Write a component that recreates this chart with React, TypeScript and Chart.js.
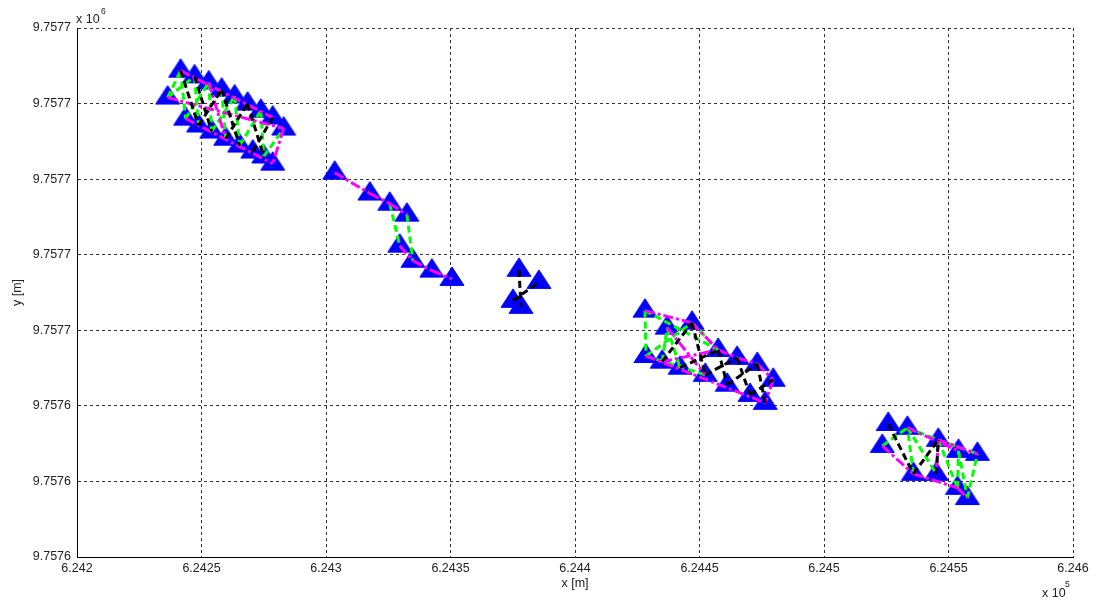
import React, { useEffect, useRef } from "react";
import { Chart, registerables } from "chart.js";

Chart.register(...registerables);

const FONT = '"Liberation Sans", Arial, Helvetica, sans-serif';

// Axis ticks
const xTickValues = [624200, 624250, 624300, 624350, 624400, 624450, 624500, 624550, 624600];
const xTickLabels = ["6.242", "6.2425", "6.243", "6.2435", "6.244", "6.2445", "6.245", "6.2455", "6.246"];
const yTickValues = [9757600, 9757620, 9757640, 9757660, 9757680, 9757700, 9757720, 9757740];
const yTickLabels = ["9.7576", "9.7576", "9.7576", "9.7577", "9.7577", "9.7577", "9.7577", "9.7577"];

// Cluster 1 (upper chord 0-8, lower chord 9-17)
const c1X = [624241.6, 624247.2, 624252.9, 624258.1, 624263.3, 624268.5, 624273.8, 624278.6, 624283.0,
  624236.4, 624243.6, 624248.8, 624254.1, 624259.7, 624265.3, 624270.6, 624275.0, 624278.6];
const c1Y = [9757728.7, 9757727.2, 9757725.6, 9757723.7, 9757721.9, 9757720.0, 9757718.1, 9757716.3, 9757713.4,
  9757721.6, 9757716.0, 9757714.2, 9757712.6, 9757710.7, 9757708.9, 9757707.3, 9757706.0, 9757704.1];
const c1Green = [[9, 0], [0, 10], [10, 2], [2, 12], [12, 4], [4, 14], [14, 6], [6, 16], [16, 8], [9, 1], [1, 11], [3, 13]];
const c1Black = [[1, 12], [11, 3], [3, 14], [13, 5], [5, 16], [15, 7], [0, 11]];
const c1Magenta = [[9, 8], [0, 7], [10, 17], [8, 17], [2, 13]];

// Cluster 2
const c2X = [624303.5, 624317.6, 624325.6, 624332.5, 624329.6, 624334.9, 624342.5, 624350.6];
const c2Y = [9757701.7, 9757696.2, 9757693.5, 9757690.6, 9757682.4, 9757678.4, 9757675.8, 9757673.6];
const c2Green = [[2, 4], [3, 5]];
const c2Black: number[][] = [];
const c2Magenta = [[0, 1], [1, 2], [2, 3], [4, 5], [5, 6], [6, 7]];

// Cluster 3
const c3X = [624377.5, 624385.5, 624375.1, 624378.3];
const c3Y = [9757676.0, 9757672.8, 9757667.8, 9757666.2];
const c3Green: number[][] = [];
const c3Black = [[0, 3], [2, 1]];
const c3Magenta: number[][] = [];

// Cluster 4 (upper 0-6, lower 7-13)
const c4X = [624428.1, 624437.0, 624447.0, 624457.5, 624465.1, 624473.2, 624479.6,
  624428.5, 624435.0, 624442.2, 624452.3, 624461.1, 624470.3, 624476.4];
const c4Y = [9757665.2, 9757660.7, 9757662.0, 9757654.8, 9757652.7, 9757651.1, 9757646.9,
  9757653.2, 9757651.7, 9757650.1, 9757648.2, 9757645.6, 9757642.9, 9757640.8];
const c4Green = [[0, 7], [0, 3], [7, 2], [2, 3], [7, 10], [1, 9], [8, 1]];
const c4Black = [[8, 2], [2, 10], [9, 3], [3, 11], [10, 4], [4, 12], [11, 5], [5, 13], [12, 6]];
const c4Magenta = [[0, 2], [2, 3], [3, 4], [4, 5], [5, 6], [7, 13], [8, 3], [6, 13], [1, 10]];

// Cluster 5 (upper 0-4, lower 5-9)
const c5X = [624525.8, 624533.5, 624545.9, 624554.0, 624561.6, 624523.4, 624535.9, 624545.1, 624553.6, 624557.6];
const c5Y = [9757635.2, 9757634.2, 9757631.0, 9757628.1, 9757627.3, 9757629.4, 9757622.0, 9757622.0, 9757618.3, 9757615.6];
const c5Green = [[5, 1], [1, 2], [2, 4], [2, 8], [8, 3], [3, 9], [9, 4], [6, 1], [1, 7]];
const c5Black = [[0, 6], [6, 2], [7, 2]];
const c5Magenta = [[5, 6], [6, 8], [8, 9], [2, 4], [2, 7], [1, 3]];

const clusters = [
  { xs: c1X, ys: c1Y, green: c1Green, black: c1Black, magenta: c1Magenta },
  { xs: c2X, ys: c2Y, green: c2Green, black: c2Black, magenta: c2Magenta },
  { xs: c3X, ys: c3Y, green: c3Green, black: c3Black, magenta: c3Magenta },
  { xs: c4X, ys: c4Y, green: c4Green, black: c4Black, magenta: c4Magenta },
  { xs: c5X, ys: c5Y, green: c5Green, black: c5Black, magenta: c5Magenta },
];

type EdgeKey = "green" | "black" | "magenta";

function segments(key: EdgeKey) {
  const pts: { x: number; y: number | null }[] = [];
  clusters.forEach((c) => {
    c[key].forEach(([a, b]) => {
      pts.push({ x: c.xs[a], y: c.ys[a] });
      pts.push({ x: c.xs[b], y: c.ys[b] });
      pts.push({ x: c.xs[b], y: null });
    });
  });
  return pts;
}

const exponentPlugin = {
  id: "exponents",
  afterDraw(chart: any) {
    const { ctx, chartArea } = chart;
    ctx.save();
    ctx.fillStyle = "#222";
    ctx.textAlign = "left";
    ctx.textBaseline = "alphabetic";
    ctx.font = `12.5px ${FONT}`;
    ctx.fillText("x 10", chartArea.left - 1, 22.5);
    ctx.fillText("x 10", chartArea.right - 31, 596.5);
    ctx.font = `8.5px ${FONT}`;
    ctx.fillText("6", chartArea.left + 24, 13.5);
    ctx.fillText("5", chartArea.right - 8, 587);
    ctx.restore();
  },
};

export default function App() {
  const ref = useRef<HTMLCanvasElement>(null);

  useEffect(() => {
    const canvas = ref.current!;
    const tri = document.createElement("canvas");
    tri.width = 26;
    tri.height = 26;
    const tc = tri.getContext("2d")!;
    tc.fillStyle = "#0000ff";
    tc.strokeStyle = "#0000ff";
    tc.lineWidth = 1;
    tc.lineJoin = "miter";
    tc.beginPath();
    tc.moveTo(13, 1);
    tc.lineTo(25, 19.5);
    tc.lineTo(1, 19.5);
    tc.closePath();
    tc.fill();
    tc.stroke();

    const markers: { x: number; y: number }[] = [];
    clusters.forEach((c) => c.xs.forEach((x, i) => markers.push({ x, y: c.ys[i] })));

    const tickFont = { family: FONT, size: 12.5 };
    const lineBase = {
      type: "line",
      borderWidth: 3,
      pointRadius: 0,
      spanGaps: false,
      fill: false,
      tension: 0,
    };

    const chart = new Chart(canvas, {
      type: "scatter",
      data: {
        datasets: [
          {
            type: "scatter",
            data: markers,
            pointStyle: tri as any,
            pointRadius: 13,
            showLine: false,
            order: 10,
          } as any,
          { ...lineBase, data: segments("green"), borderColor: "#00ff00", borderDash: [7, 4], order: 3 } as any,
          { ...lineBase, data: segments("magenta"), borderColor: "#ff00ff", borderDash: [10, 3, 3, 3], order: 2 } as any,
          { ...lineBase, data: segments("black"), borderColor: "#000000", borderDash: [7, 4], order: 1 } as any,
        ],
      },
      options: {
        responsive: false,
        animation: false,
        events: [],
        layout: { padding: { top: 28, right: 27, left: 0, bottom: 0 } },
        plugins: { legend: { display: false }, tooltip: { enabled: false } },
        scales: {
          x: {
            type: "linear",
            min: xTickValues[0],
            max: xTickValues[xTickValues.length - 1],
            afterBuildTicks: (s: any) => {
              s.ticks = xTickValues.map((v) => ({ value: v }));
            },
            afterFit: (s: any) => {
              s.height = 46;
            },
            ticks: {
              callback: (v: any) => xTickLabels[xTickValues.indexOf(Number(v))],
              font: tickFont,
              color: "#222",
              padding: 4,
              maxRotation: 0,
              autoSkip: false,
            },
            grid: { color: "#333", lineWidth: 1, drawTicks: false },
            border: { display: true, color: "#000", width: 1, dash: [3, 3] },
            title: {
              display: true,
              text: "x [m]",
              font: tickFont,
              color: "#222",
              padding: { top: 0, bottom: 12 },
            },
          },
          y: {
            type: "linear",
            min: yTickValues[0],
            max: yTickValues[yTickValues.length - 1],
            afterBuildTicks: (s: any) => {
              s.ticks = yTickValues.map((v) => ({ value: v }));
            },
            afterFit: (s: any) => {
              s.width = 77;
            },
            ticks: {
              callback: (v: any) => yTickLabels[yTickValues.indexOf(Number(v))],
              font: tickFont,
              color: "#222",
              padding: 6,
              autoSkip: false,
            },
            grid: { color: "#333", lineWidth: 1, drawTicks: false },
            border: { display: true, color: "#000", width: 1, dash: [3, 3] },
            title: {
              display: true,
              text: "y [m]",
              font: tickFont,
              color: "#222",
              padding: { top: 10.5, bottom: 0 },
            },
          },
        },
      } as any,
      plugins: [exponentPlugin],
    });
    return () => chart.destroy();
  }, []);

  return (
    <div style={{ position: "fixed", left: 0, top: 0, width: 1100, height: 603, background: "#fff" }}>
      <canvas ref={ref} width={1100} height={603} style={{ display: "block" }} />
    </div>
  );
}
